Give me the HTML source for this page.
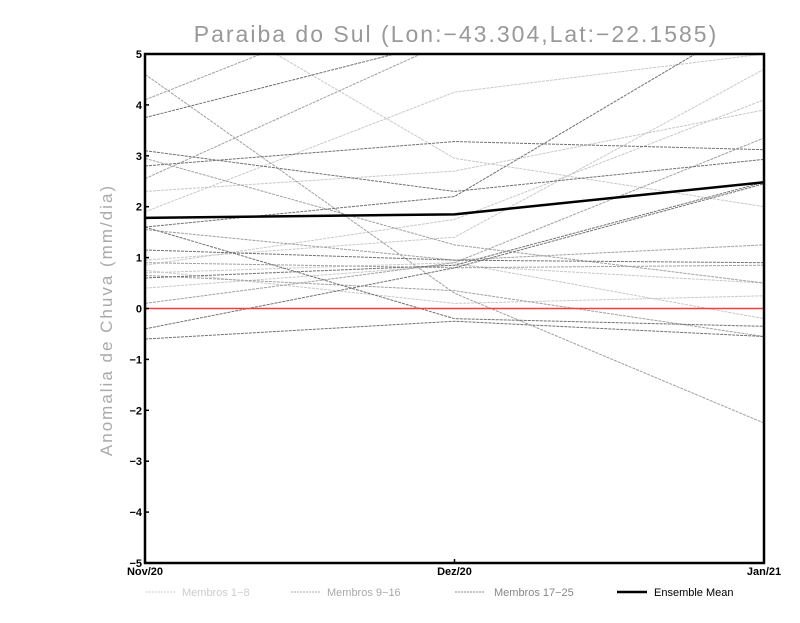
<!DOCTYPE html>
<html><head><meta charset="utf-8"><style>
body{margin:0;background:#fff;width:800px;height:618px;overflow:hidden}
svg text{font-family:"Liberation Sans",sans-serif}
</style></head><body>
<svg id="chart" width="800" height="618">
<defs><clipPath id="pc"><rect x="145" y="54" width="619" height="509"/></clipPath></defs>
<text x="456" y="42" text-anchor="middle" font-size="23" fill="#999" letter-spacing="2">Paraiba do Sul (Lon:−43.304,Lat:−22.1585)</text>
<text transform="translate(112,320) rotate(-90)" text-anchor="middle" font-size="17" fill="#aaa" letter-spacing="2">Anomalia de Chuva (mm/dia)</text>
<g id="series" clip-path="url(#pc)"></g>
<g id="axes"></g>
<g id="legend">
<line x1="146" y1="592" x2="176" y2="592" stroke="#ccc" stroke-dasharray="2,1"/>
<text x="182" y="596" font-size="11" fill="#ccc">Membros 1−8</text>
<line x1="291" y1="592" x2="321" y2="592" stroke="#aaa" stroke-dasharray="2,1"/>
<text x="327" y="596" font-size="11" fill="#aaa">Membros 9−16</text>
<line x1="455" y1="592" x2="485" y2="592" stroke="#888" stroke-dasharray="2,1"/>
<text x="494" y="596" font-size="11" fill="#888">Membros 17−25</text>
<line x1="617" y1="592" x2="647" y2="592" stroke="#000" stroke-width="2.5"/>
<text x="654" y="596" font-size="11" fill="#000">Ensemble Mean</text>
</g>
</svg>
<script>
const categories = ["Nov/20","Dez/20","Jan/21"];
const yTicks = [-5,-4,-3,-2,-1,0,1,2,3,4,5];
const members1to8 = [[2.3,2.7,3.9],[6.5,2.95,2.0],[1.9,4.25,5.0],[0.95,1.4,4.7],[0.4,0.85,0.5],[0.75,0.1,0.25],[0.85,1.75,4.1],[0.7,0.9,-0.2]];
const members9to16 = [[4.1,6.5,7],[4.6,0.3,-2.25],[2.55,5.3,5.3],[2.95,1.25,0.5],[0.65,0.35,-0.55],[1.55,0.95,1.25],[0.9,0.8,0.85],[0.1,0.9,3.35]];
const members17to25 = [[3.75,5.3,5.6],[3.1,2.3,2.93],[2.8,3.28,3.12],[1.6,2.2,5.8],[1.15,0.95,0.9],[0.6,0.85,2.48],[-0.4,0.8,2.45],[-0.6,-0.25,-0.55],[1.6,-0.2,-0.35]];
const ensembleMean = [1.78,1.85,2.48];

const NS="http://www.w3.org/2000/svg";
const X0=145,X1=764,Y0=54,Y1=563;
function xs(i){return X0+(X1-X0)*i/(categories.length-1);}
function ys(v){return Y1-(v+5)*(Y1-Y0)/10;}
function mk(t,a,p){const e=document.createElementNS(NS,t);for(const k in a)e.setAttribute(k,a[k]);p.appendChild(e);return e;}
const S=document.getElementById('series'),A=document.getElementById('axes');
function pts(arr){return arr.map((v,i)=>xs(i)+','+ys(v)).join(' ');}
function group(list,color,name){
  list.forEach((m,j)=>{
    const p=mk('polyline',{points:pts(m),fill:'none',stroke:color,'stroke-width':1,'stroke-dasharray':'3,1'},S);
    
    
  });
}
group(members1to8,'#c8c8c8','member-light');
group(members9to16,'#a0a0a0','member-medium');
group(members17to25,'#707070','member-dark');
const zl=mk('line',{x1:X0,x2:X1,y1:ys(0),y2:ys(0),stroke:'#f04040','stroke-width':1.5},S);


const ml=mk('polyline',{points:pts(ensembleMean),fill:'none',stroke:'#000','stroke-width':2.5},S);


const fr=mk('rect',{x:X0,y:Y0,width:X1-X0,height:Y1-Y0,fill:'none',stroke:'#000','stroke-width':2.5},A);


yTicks.forEach(v=>{
  mk('line',{x1:X0,x2:X0+4,y1:ys(v),y2:ys(v),stroke:'#000','stroke-width':1.5},A);
  const t=mk('text',{x:X0-3,y:ys(v)+4,'text-anchor':'end','font-size':11,'font-weight':'bold'},A);
  t.textContent=v<0?'−'+(-v):String(v);
  
  
});
categories.forEach((c,i)=>{
  mk('line',{x1:xs(i),x2:xs(i),y1:Y1,y2:Y1-4,stroke:'#000','stroke-width':1.5},A);
  const t=mk('text',{x:xs(i),y:Y1+12,'text-anchor':'middle','font-size':11,'font-weight':'bold'},A);
  t.textContent=c;
  
  
});
</script>
</body></html>
